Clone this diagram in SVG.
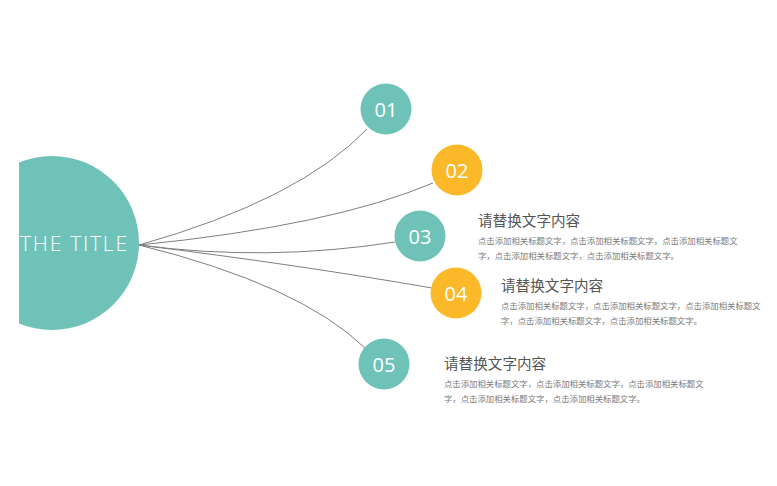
<svg xmlns="http://www.w3.org/2000/svg" width="777" height="486" viewBox="0 0 777 486">
<style>
.teal{fill:#6fc2b8}
.yel{fill:#fbb92a}
.num{fill:#fff;font-family:"Open Sans","Liberation Sans",sans-serif;font-size:20px;text-anchor:middle;dominant-baseline:central}
.conn path{fill:none;stroke:#7f7f7f;stroke-width:1}
.h{fill:#555;font-family:"Noto Sans CJK SC",sans-serif;font-size:14.6px}
.b{fill:#7a7a7a;font-family:"Noto Sans CJK SC",sans-serif;font-size:8.4px}
</style>
<defs><clipPath id="cl"><rect x="19" y="0" width="760" height="486"/></clipPath></defs>
<rect width="777" height="486" fill="#fff"/>
<g id="center">
<circle class="teal" cx="52" cy="243" r="87" clip-path="url(#cl)"/>
<text x="20" y="251" fill="#fff" font-family="'Open Sans','Liberation Sans',sans-serif" font-weight="300" font-size="21" textLength="107" lengthAdjust="spacing">THE TITLE</text>
</g>
<g class="conn" id="connectors">
<path d="M139,245 Q299,200 367,129"/>
<path d="M139,245 Q331,226 433,183"/>
<path d="M139,245 Q267,262 395,242"/>
<path d="M139,245 Q300,265 432,288"/>
<path d="M139,245 Q300,285 365,348"/>
</g>
<g id="n01"><circle class="teal" cx="386" cy="109" r="25.5"/><text class="num" x="386" y="109">01</text></g>
<g id="n02"><circle class="yel" cx="457" cy="170" r="25.5"/><text class="num" x="457" y="170">02</text></g>
<g id="n03"><circle class="teal" cx="420" cy="236" r="25.5"/><text class="num" x="420" y="236">03</text></g>
<g id="n04"><circle class="yel" cx="456" cy="293" r="25.5"/><text class="num" x="456" y="293">04</text></g>
<g id="n05"><circle class="teal" cx="384" cy="364" r="25.5"/><text class="num" x="384" y="364">05</text></g>
<g id="t03">
<text class="h" x="478" y="226">请替换文字内容</text>
<text class="b" x="478" y="244">点击添加相关标题文字，点击添加相关标题文字，点击添加相关标题文</text>
<text class="b" x="478" y="259">字，点击添加相关标题文字，点击添加相关标题文字。</text>
</g>
<g id="t04">
<text class="h" x="501" y="291">请替换文字内容</text>
<text class="b" x="501" y="309">点击添加相关标题文字，点击添加相关标题文字，点击添加相关标题文</text>
<text class="b" x="501" y="324">字，点击添加相关标题文字，点击添加相关标题文字。</text>
</g>
<g id="t05">
<text class="h" x="444" y="369">请替换文字内容</text>
<text class="b" x="444" y="387">点击添加相关标题文字，点击添加相关标题文字，点击添加相关标题文</text>
<text class="b" x="444" y="402">字，点击添加相关标题文字，点击添加相关标题文字。</text>
</g>
</svg>
